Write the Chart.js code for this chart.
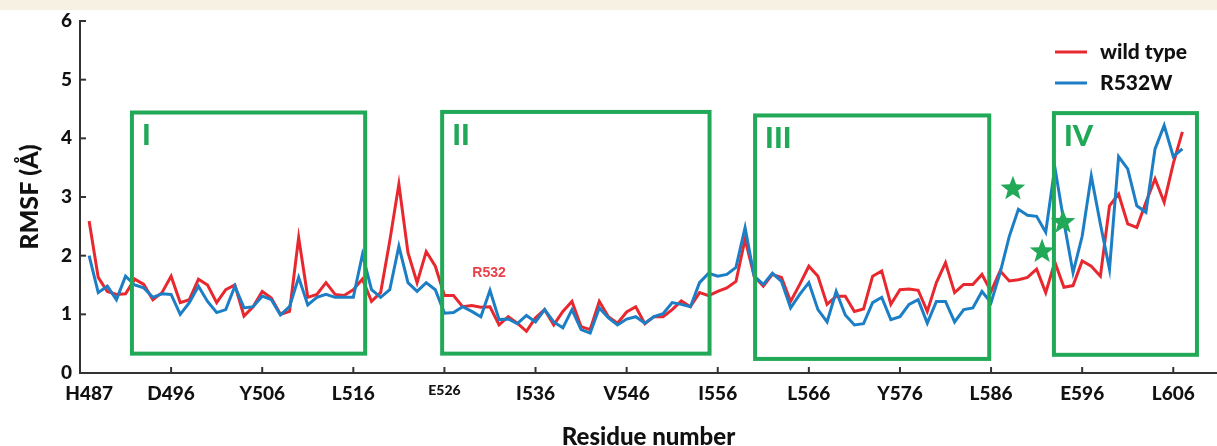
<!DOCTYPE html>
<html>
<head>
<meta charset="utf-8">
<script src="https://cdn.jsdelivr.net/npm/chart.js@4.4.1/dist/chart.umd.min.js"></script>
<style>
  body { margin: 0; background: #fff; }
  canvas { display: block; }
</style>
</head>
<body>
<canvas id="rmsfChart" width="1217" height="446"></canvas>
<script>
// RMSF per residue, H487 .. 607
const firstResidue = 487;
const wildType = [
  2.59, 1.63, 1.39, 1.34, 1.35, 1.60, 1.51, 1.25, 1.37, 1.65,
  1.20, 1.25, 1.60, 1.50, 1.20, 1.42, 1.50, 0.97, 1.13, 1.39,
  1.28, 1.00, 1.05, 2.31, 1.29, 1.34, 1.54, 1.34, 1.32, 1.42,
  1.60, 1.22, 1.37, 2.25, 3.22, 2.05, 1.54, 2.07, 1.82, 1.32,
  1.32, 1.13, 1.15, 1.12, 1.13, 0.82, 0.96, 0.85, 0.71, 0.94,
  1.08, 0.82, 1.05, 1.22, 0.79, 0.74, 1.22, 0.96, 0.85, 1.04,
  1.13, 0.84, 0.96, 0.96, 1.08, 1.23, 1.13, 1.37, 1.32, 1.39,
  1.45, 1.56, 2.28, 1.65, 1.48, 1.68, 1.63, 1.22, 1.51, 1.82,
  1.65, 1.17, 1.31, 1.31, 1.05, 1.09, 1.65, 1.74, 1.17, 1.42,
  1.43, 1.41, 1.05, 1.54, 1.88, 1.37, 1.51, 1.51, 1.68, 1.39,
  1.74, 1.57, 1.59, 1.63, 1.77, 1.37, 1.89, 1.46, 1.49, 1.91,
  1.82, 1.65, 2.85, 3.05, 2.54, 2.48, 2.91, 3.31, 2.91, 3.57,
  4.11
];
const r532w = [
  2.00, 1.37, 1.48, 1.25, 1.65, 1.50, 1.45, 1.29, 1.35, 1.34,
  1.00, 1.20, 1.48, 1.22, 1.03, 1.08, 1.48, 1.11, 1.13, 1.31,
  1.25, 0.99, 1.13, 1.63, 1.16, 1.29, 1.34, 1.29, 1.29, 1.29,
  2.02, 1.42, 1.29, 1.42, 2.16, 1.54, 1.39, 1.54, 1.42, 1.02,
  1.03, 1.13, 1.05, 0.96, 1.41, 0.91, 0.92, 0.84, 0.98, 0.87,
  1.08, 0.87, 0.77, 1.08, 0.74, 0.68, 1.11, 0.94, 0.82, 0.92,
  0.96, 0.85, 0.96, 1.01, 1.20, 1.17, 1.13, 1.54, 1.70, 1.65,
  1.68, 1.80, 2.48, 1.65, 1.51, 1.70, 1.56, 1.11, 1.34, 1.54,
  1.08, 0.87, 1.39, 0.99, 0.82, 0.84, 1.20, 1.29, 0.91, 0.96,
  1.17, 1.25, 0.85, 1.22, 1.22, 0.87, 1.08, 1.11, 1.39, 1.20,
  1.71, 2.33, 2.79, 2.69, 2.67, 2.40, 3.51, 2.57, 1.71, 2.33,
  3.36, 2.54, 1.77, 3.69, 3.48, 2.85, 2.74, 3.82, 4.22, 3.69,
  3.82
];
const seriesNames = ['wild type', 'R532W'];

const tickResidues = [487, 496, 506, 516, 526, 536, 546, 556, 566, 576, 586, 596, 606];
const tickLabels = ['H487', 'D496', 'Y506', 'L516', 'E526', 'I536', 'V546', 'I556', 'L566', 'Y576', 'L586', 'E596', 'L606'];

// boxed regions (residue range, RMSF range)
const regionNames = ['I', 'II', 'III', 'IV'];
const regionFrom = [491.7, 525.75, 560.1, 592.9];
const regionTo = [517.3, 555.1, 585.8, 608.6];
const regionTop = [4.44, 4.45, 4.39, 4.43];
const regionBottom = [0.33, 0.33, 0.24, 0.31];

// star markers (residue, RMSF)
const starResidue = [588.4, 591.6, 593.9];
const starValue = [3.14, 2.07, 2.57];

const mutLabel = 'R532';
const mutResidue = 530.9;
const mutValue = 1.70;

const RED = '#e8282f';
const BLUE = '#1c7fc6';
const GREEN = '#21a958';
const FONT = 'Lato, "Open Sans", sans-serif';
const HEAVY = '900';

const toPoints = vals => vals.map((v, i) => ({ x: firstResidue + i, y: v }));

function drawStar(ctx, cx, cy, r) {
  ctx.beginPath();
  for (let i = 0; i < 10; i++) {
    const rad = i % 2 === 0 ? r : r * 0.42;
    const a = -Math.PI / 2 + i * Math.PI / 5;
    ctx.lineTo(cx + rad * Math.cos(a), cy + rad * Math.sin(a));
  }
  ctx.closePath();
  ctx.fill();
}

const decor = {
  id: 'decor',
  beforeDraw(chart) {
    const { ctx, width, height } = chart;
    ctx.save();
    ctx.fillStyle = '#fff';
    ctx.fillRect(0, 0, width, height);
    ctx.fillStyle = '#f6f1e2';
    ctx.fillRect(0, 0, width, 10);
    ctx.restore();
  },
  afterDraw(chart) {
    const { ctx, scales: { x, y }, chartArea } = chart;
    ctx.save();

    // inward tick marks
    ctx.strokeStyle = '#333';
    ctx.lineWidth = 2;
    y.ticks.forEach(t => {
      const py = y.getPixelForValue(t.value);
      ctx.beginPath();
      ctx.moveTo(chartArea.left, py);
      ctx.lineTo(chartArea.left + 6, py);
      ctx.stroke();
    });
    tickResidues.slice(1).forEach(r => {
      const px = x.getPixelForValue(r);
      ctx.beginPath();
      ctx.moveTo(px, chartArea.bottom);
      ctx.lineTo(px, chartArea.bottom - 6);
      ctx.stroke();
    });

    // regions
    ctx.strokeStyle = GREEN;
    ctx.lineWidth = 4;
    ctx.fillStyle = GREEN;
    ctx.font = HEAVY + ' 29px ' + FONT;
    ctx.textBaseline = 'top';
    regionNames.forEach((name, i) => {
      const l = x.getPixelForValue(regionFrom[i]);
      const r = x.getPixelForValue(regionTo[i]);
      const t = y.getPixelForValue(regionTop[i]);
      const b = y.getPixelForValue(regionBottom[i]);
      ctx.strokeRect(l, t, r - l, b - t);
      ctx.fillText(name, l + 10, t + 9);
    });

    // stars
    starResidue.forEach((r, i) => {
      drawStar(ctx, x.getPixelForValue(r), y.getPixelForValue(starValue[i]), 13);
    });

    // mutation label
    ctx.fillStyle = '#ea4048';
    ctx.font = 'bold 14px "Liberation Sans", Arial, sans-serif';
    ctx.textAlign = 'center';
    ctx.textBaseline = 'middle';
    ctx.fillText(mutLabel, x.getPixelForValue(mutResidue), y.getPixelForValue(mutValue));

    // legend
    const colors = [RED, BLUE];
    ctx.textAlign = 'left';
    ctx.font = HEAVY + ' 21px ' + FONT;
    seriesNames.forEach((name, i) => {
      const ly = 52 + i * 31;
      ctx.strokeStyle = colors[i];
      ctx.lineWidth = 3;
      ctx.beginPath();
      ctx.moveTo(1055, ly);
      ctx.lineTo(1087, ly);
      ctx.stroke();
      ctx.fillStyle = '#111';
      ctx.fillText(name, 1100, ly);
    });
    ctx.restore();
  }
};

new Chart(document.getElementById('rmsfChart'), {
  type: 'line',
  data: {
    datasets: [{
      label: seriesNames[0],
      data: toPoints(wildType),
      borderColor: RED,
      borderWidth: 3,
      pointRadius: 0,
      tension: 0,
      order: 1
    }, {
      label: seriesNames[1],
      data: toPoints(r532w),
      borderColor: BLUE,
      borderWidth: 3,
      pointRadius: 0,
      tension: 0,
      order: 0
    }]
  },
  options: {
    responsive: false,
    animation: false,
    layout: { padding: { top: 21, right: 0, left: 0, bottom: 0 } },
    plugins: {
      legend: { display: false },
      tooltip: { enabled: false }
    },
    scales: {
      x: {
        type: 'linear',
        min: 486,
        max: 610.8,
        afterBuildTicks: s => { s.ticks = tickResidues.map(v => ({ value: v })); },
        afterFit: s => { s.height = 73; },
        grid: { display: false, drawTicks: false },
        border: { display: true, color: '#333', width: 2 },
        ticks: {
          autoSkip: false,
          maxRotation: 0,
          padding: 9,
          color: '#111',
          font: c => ({ family: FONT, weight: HEAVY, size: c.tick && c.tick.value === 526 ? 14 : 19 }),
          callback: v => tickLabels[tickResidues.indexOf(v)]
        },
        title: {
          display: true,
          text: 'Residue number',
          color: '#111',
          font: { family: FONT, weight: HEAVY, size: 24, lineHeight: 0.75 },
          padding: 0
        }
      },
      y: {
        min: 0,
        max: 6,
        afterFit: s => { s.width = 80; },
        grid: { display: false, drawTicks: false },
        border: { display: true, color: '#333', width: 2 },
        ticks: {
          stepSize: 1,
          padding: 8,
          color: '#111',
          font: { family: FONT, weight: HEAVY, size: 19 }
        },
        title: {
          display: true,
          text: 'RMSF (Å)',
          color: '#111',
          font: { family: FONT, weight: HEAVY, size: 25, lineHeight: 1 },
          padding: { top: 17, bottom: 0 }
        }
      }
    }
  },
  plugins: [decor]
});
</script>
</body>
</html>
